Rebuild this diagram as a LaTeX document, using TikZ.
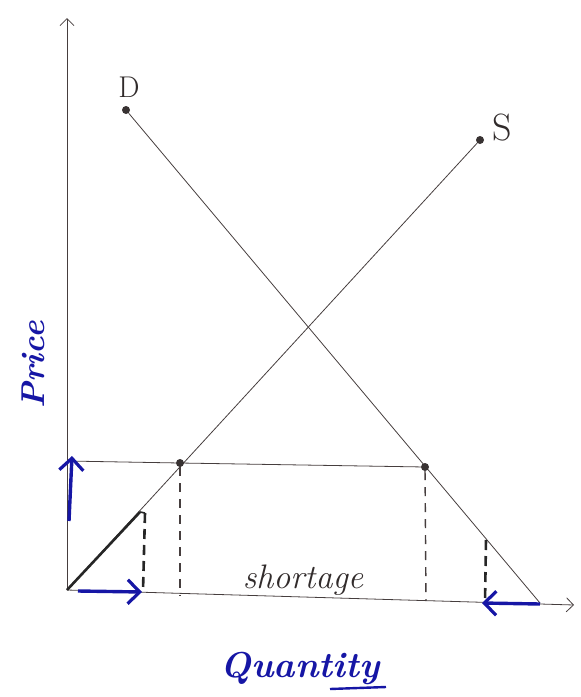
\documentclass[tikz,border=0pt]{standalone}
\usetikzlibrary{arrows.meta}
\definecolor{pen}{RGB}{70,62,62}
\definecolor{ink}{RGB}{22,22,165}
\tikzset{
  thin line/.style={draw=pen, line width=0.8pt},
  dashline/.style={draw=pen, line width=1.4pt, dash pattern=on 9pt off 7pt},
  thickdash/.style={draw=black!85, line width=2.6pt, dash pattern=on 10pt off 6pt},
  bluearrow/.style={draw=ink, line width=3.4pt, -{Straight Barb[length=12pt,width=24pt,line width=3.2pt]}},
  dot/.style={circle, fill=pen!80!black, inner sep=0pt, minimum size=8pt},
  label/.style={text=pen!70!black, inner sep=0pt}
}
\begin{document}
\begin{tikzpicture}[x=1pt,y=-1pt]
\useasboundingbox (0,0) rectangle (581,697);
% axes
\coordinate (O) at (67,590);
\coordinate (Ytop) at (67,18);
\coordinate (Xend) at (574,605);
\draw[thin line, -{Straight Barb[length=7pt,width=14pt]}] (O) -- (Ytop);
\draw[thin line, -{Straight Barb[length=7pt,width=14pt]}] (O) -- (Xend);
% demand
\node[dot] (Dtop) at (126,110) {};
\node[label, font=\fontsize{30}{30}\selectfont] (Dlab) at (129,87) {D};
\coordinate (Dbot) at (540,603);
\draw[thin line] (Dtop) -- (Dbot);
% supply
\node[dot] (Stop) at (480,140) {};
\node[label, font=\fontsize{38}{38}\selectfont] (Slab) at (502,128) {S};
\draw[thin line] (O) -- (Stop);
% price ceiling line and points
\node[dot] (Qs) at (180,463) {};
\node[dot] (Qd) at (425,467) {};
\coordinate (Py) at (67,461);
\draw[thin line] (Py) -- (Qs) -- (Qd);
% dashed verticals
\coordinate (Qsb) at (180,596);
\coordinate (Qdb) at (426,600);
\draw[dashline] (Qs) -- (Qsb);
\draw[dashline] (Qd) -- (Qdb);
% thick segment on supply and dashed drop
\coordinate (Sk) at (140,512);
\coordinate (Skt) at (145,513);
\coordinate (Skb) at (143,591);
\draw[draw=black!85, line width=2.6pt] (O) -- (Sk);
\draw[draw=black!85, line width=1.6pt] (Sk) -- (Skt);
\draw[thickdash] (Skt) -- (Skb);
% right dashed drop
\coordinate (Rt) at (486,540);
\coordinate (Rb) at (485,603);
\draw[thickdash] (Rt) -- (Rb);
% blue arrows
\coordinate (Bu1) at (69,521);
\coordinate (Bu2) at (72,456);
\draw[bluearrow] (Bu1) -- (Bu2);
\coordinate (Br1) at (78,591);
\coordinate (Br2) at (142,592);
\draw[bluearrow] (Br1) -- (Br2);
\coordinate (Bl1) at (540,604);
\coordinate (Bl2) at (482,603);
\draw[bluearrow] (Bl1) -- (Bl2);
% texts
\node[label, font=\fontsize{34}{34}\selectfont\itshape] (short) at (303,580) {shortage};
\node[text=ink, inner sep=0pt, rotate=90, font=\fontsize{33}{33}\selectfont\itshape\bfseries] (price) at (33,365) {Price};
\node[text=ink, inner sep=0pt, font=\fontsize{36}{36}\selectfont\itshape\bfseries] (qty) at (300,668) {Quantity};
\coordinate (U1) at (330,689);
\coordinate (U2) at (386,687);
\draw[draw=ink, line width=2.4pt] (U1) -- (U2);
\end{tikzpicture}
\end{document}
